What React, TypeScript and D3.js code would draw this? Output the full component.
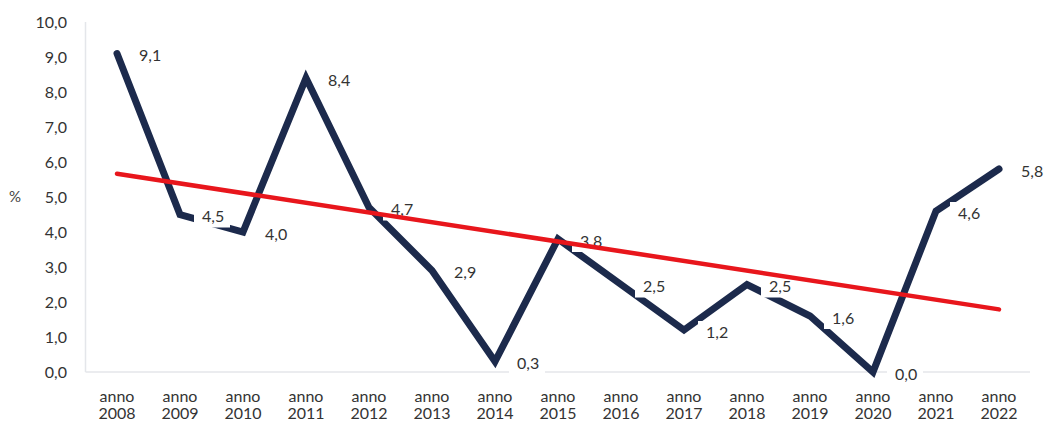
import React from "react";
import * as d3 from "d3";

const years = ["2008","2009","2010","2011","2012","2013","2014","2015","2016","2017","2018","2019","2020","2021","2022"];
const values = [9.1,4.5,4.0,8.4,4.7,2.9,0.3,3.8,2.5,1.2,2.5,1.6,0.0,4.6,5.8];
const yTicks = [0,1,2,3,4,5,6,7,8,9,10];

const W = 1047, H = 423;
const fmt = (v: number) => v.toFixed(1).replace(".", ",");

export default function App() {
  const x = d3.scaleBand<string>().domain(years).range([85.5, 1030.5]);
  const y = d3.scaleLinear().domain([0, 10]).range([372, 22]);
  const cx = (yr: string) => (x(yr) as number) + x.bandwidth() / 2;

  const line = d3.line<number>().x((_, i) => cx(years[i])).y(d => y(d));

  // linear trendline (least squares)
  const n = values.length;
  const xm = (n - 1) / 2;
  const ym = d3.mean(values) as number;
  let sxy = 0, sxx = 0;
  values.forEach((v, i) => { sxy += (i - xm) * (v - ym); sxx += (i - xm) ** 2; });
  const slope = sxy / sxx;
  const t0 = ym - slope * xm;
  const t1 = ym + slope * xm;

  const font = "Lato, 'Open Sans', sans-serif";

  return (
    <svg width={W} height={H} style={{ position: "absolute", left: 0, top: 0, background: "#fff" }}>
      <rect x={0} y={0} width={W} height={H} fill="#fff" />
      {/* axes */}
      <line x1={85.5} x2={85.5} y1={y(10)} y2={y(0)} stroke="#e4e6ea" strokeWidth={1.5} />
      <line x1={85.5} x2={1030} y1={y(0)} y2={y(0)} stroke="#e4e6ea" strokeWidth={1.5} />
      {yTicks.map(t => (
        <text key={t} x={67} y={y(t)} dy="0.35em" textAnchor="end" fontFamily={font} fontSize={16} fill="#333">{fmt(t)}</text>
      ))}
      <text x={15} y={y(5)} dy="0.35em" textAnchor="middle" fontFamily={font} fontSize={15} fill="#444">%</text>
      {years.map(yr => (
        <g key={yr}>
          <text x={cx(yr)} y={396} dy="0.35em" textAnchor="middle" fontFamily={font} fontSize={16} fill="#333">anno</text>
          <text x={cx(yr)} y={413} dy="0.35em" textAnchor="middle" fontFamily={font} fontSize={16} fill="#333">{yr}</text>
        </g>
      ))}
      {/* data line */}
      <path d={line(values) as string} fill="none" stroke="#1c2a4c" strokeWidth={7} strokeLinejoin="miter" strokeLinecap="round" />
      {/* labels with white background */}
      {values.map((v, i) => {
        const px = cx(years[i]);
        const py = y(v) + 2;
        return (
          <g key={i}>
            <rect x={px + 14} y={py - 11} width={36} height={22} fill="#fff" />
            <text x={px + 22} y={py} dy="0.35em" fontFamily={font} fontSize={16} fill="#333">{fmt(v)}</text>
          </g>
        );
      })}
      {/* trendline */}
      <line x1={cx(years[0])} y1={y(t0)} x2={cx(years[n - 1])} y2={y(t1)} stroke="#e8161c" strokeWidth={4.5} strokeLinecap="round" />
    </svg>
  );
}
